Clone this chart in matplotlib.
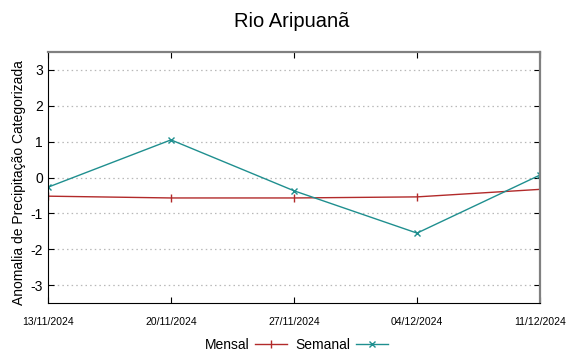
import matplotlib.pyplot as plt
import matplotlib.dates as mdates
import numpy as np
import pandas as pd

plt.rcParams["font.family"] = ["Liberation Sans", "DejaVu Sans"]

# weekly dates and anomaly values
dates = pd.to_datetime(
    ["2024-11-13", "2024-11-20", "2024-11-27", "2024-12-04", "2024-12-11"]
)
mensal = [-0.52, -0.57, -0.57, -0.54, -0.33]
semanal = [-0.27, 1.05, -0.37, -1.55, 0.07]
yticks = [-3, -2, -1, 0, 1, 2, 3]

fig = plt.figure(figsize=(5.83, 3.53), dpi=100)
ax = fig.add_axes([0.0823, 0.1416, 0.8440, 0.7110])

ax.plot(dates, mensal, color="#b22a2a", lw=1.0, marker="|", ms=6, mew=1.0,
        label="Mensal")
ax.plot(dates, semanal, color="#1f8f8f", lw=1.0, marker="x", ms=5, mew=1.0,
        label="Semanal")

ax.set_xlim(dates[0], dates[-1])
ax.set_ylim(-3.5, 3.5)
ax.set_yticks(yticks)
ax.set_yticklabels([str(v) for v in yticks], fontsize=10)
ax.set_xticks(dates)
ax.xaxis.set_major_formatter(mdates.DateFormatter("%d/%m/%Y"))
ax.tick_params(axis="x", labelsize=7.5, pad=10)
ax.tick_params(direction="in", length=4, width=0.8, top=True, right=True,
               color="black")
ax.grid(axis="y", color="#b8b8b8", linestyle=(0, (1.2, 2.5)), lw=0.9)

for side in ("left", "bottom"):
    ax.spines[side].set_color("black")
    ax.spines[side].set_linewidth(0.8)
for side in ("top", "right"):
    ax.spines[side].set_color("#808080")
    ax.spines[side].set_linewidth(1.6)

ax.set_ylabel("Anomalia de Precipitação Categorizada", fontsize=10)
ax.yaxis.set_label_coords(-0.045, 0.48)
fig.suptitle("Rio Aripuanã", fontsize=14.5, y=0.965)

ax.legend(loc="center", bbox_to_anchor=(0.505, -0.167), ncol=2,
          markerfirst=False, frameon=False, fontsize=10, handlelength=2.3,
          handletextpad=0.4, columnspacing=0.6)

fig.savefig("out.png", dpi=100)
